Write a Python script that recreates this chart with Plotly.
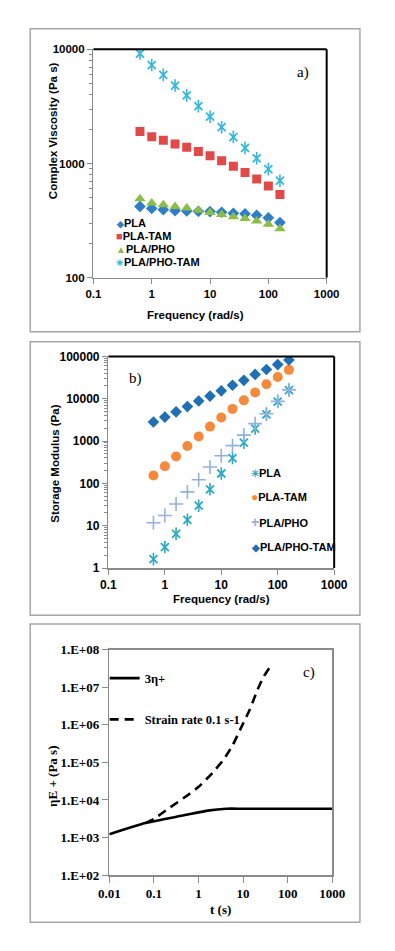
import plotly.graph_objects as go

W, H = 395, 951

# ---------------- data ----------------
freq = [0.628, 1.0, 1.58, 2.51, 3.98, 6.31, 10.0, 15.8, 25.1, 39.8, 63.1, 100.0, 158.0]

# panel a: complex viscosity (Pa s)
visc_pla = [421, 404, 394, 386, 384, 381, 379, 374, 366, 362, 352, 334, 304]
visc_pla_tam = [1909, 1718, 1597, 1483, 1388, 1273, 1168, 1057, 945, 834, 730, 635, 535]
visc_pla_pho = [491, 450, 435, 419, 408, 389, 372, 357, 341, 330, 313, 293, 268]
visc_pla_pho_tam = [9180, 7280, 5970, 4820, 3950, 3180, 2570, 2080, 1705, 1370, 1110, 892, 707]

# panel b: storage modulus (Pa)
gp_pla = [1.62, 3.13, 6.4, 13.8, 29.7, 72.5, 171, 396, 915, 1971, 4250, 8510, 15900]
gp_pla_tam = [153, 253, 432, 766, 1285, 2195, 3615, 5750, 9145, 14030, 21930, 32480, 48100]
gp_pla_pho = [11.7, 17.4, 32.5, 62.9, 122, 244, 448, 779, 1380, 2577, 4400, 8670, 16200]
gp_pla_pho_tam = [2818, 3683, 4898, 6516, 8830, 11535, 15350, 20800, 27180, 37500, 48980, 63970, 82200]

# panel c: elongational viscosity
t_lve = [0.01, 0.064, 0.44, 1.6, 4.2, 10, 100, 1000]
eta_lve = [1219, 2427, 3837, 5190, 5850, 5850, 5850, 5850]
t_ext = [0.064, 0.10, 0.232, 0.52, 0.99, 2.05, 3.6, 5.85, 9.5, 14.2, 21.2, 29.2, 38.5]
eta_ext = [2427, 3140, 6370, 12360, 22000, 52500, 117000, 289000, 964000, 2.6e6, 8.8e6, 1.96e7, 3.24e7]

series_a = ["PLA", "PLA-TAM", "PLA/PHO", "PLA/PHO-TAM"]
series_b = ["PLA", "PLA-TAM", "PLA/PHO", "PLA/PHO-TAM"]
series_c = ["3η+", "Strain rate 0.1 s-1"]

yc_ticks = [1e2, 1e3, 1e4, 1e5, 1e6, 1e7, 1e8]
yc_ticktext = ["1.E+02", "1.E+03", "1.E+04", "1.E+05", "1.E+06", "1.E+07", "1.E+08"]
xc_ticks = [0.01, 0.1, 1, 10, 100, 1000]
xc_ticktext = ["0.01", "0.1", "1", "10", "100", "1000"]
xab_ticks = [0.1, 1, 10, 100, 1000]
xab_ticktext = ["0.1", "1", "10", "100", "1000"]
ya_ticks = [100, 1000, 10000]
ya_ticktext = ["100", "1000", "10000"]
yb_ticks = [1, 10, 100, 1000, 10000, 100000]
yb_ticktext = ["1", "10", "100", "1000", "10000", "100000"]

# ---------------- helpers ----------------
def px(x):
    return x / W

def py(y):
    return 1 - y / H

SANS = "Liberation Sans, Arial"
SERIF = "Liberation Serif, Times New Roman"
GREY = "#8a8a8a"

fig = go.Figure()

# ---- panel a
C_BLUE_A = "#2f7fc6"
C_RED = "#e24a4a"
C_GREEN = "#8cbd48"
C_CYAN = "#33b8dc"

fig.add_trace(go.Scatter(x=freq, y=visc_pla, mode="markers", name=series_a[0], showlegend=False,
    marker=dict(symbol="diamond", size=9, color=C_BLUE_A), xaxis="x", yaxis="y"))
fig.add_trace(go.Scatter(x=freq, y=visc_pla_tam, mode="markers", name=series_a[1], showlegend=False,
    marker=dict(symbol="square", size=9, color=C_RED), xaxis="x", yaxis="y"))
fig.add_trace(go.Scatter(x=freq, y=visc_pla_pho, mode="markers", name=series_a[2], showlegend=False,
    marker=dict(symbol="triangle-up", size=10, color=C_GREEN), xaxis="x", yaxis="y"))
fig.add_trace(go.Scatter(x=freq, y=visc_pla_pho_tam, mode="markers", name=series_a[3], showlegend=False,
    marker=dict(symbol="x-thin-open", size=8, color=C_CYAN, line=dict(width=1.8, color=C_CYAN)),
    xaxis="x", yaxis="y"))
fig.add_trace(go.Scatter(x=freq, y=visc_pla_pho_tam, mode="markers", showlegend=False,
    marker=dict(symbol="line-ns-open", size=9, color=C_CYAN, line=dict(width=1.6, color=C_CYAN)),
    xaxis="x", yaxis="y"))

# ---- panel b
C_TEAL = "#2aaac2"
C_ORANGE = "#f68a3c"
C_LBLUE = "#93b1df"
C_DBLUE = "#1f6fb4"

fig.add_trace(go.Scatter(x=freq, y=gp_pla, mode="markers", name=series_b[0], showlegend=False,
    marker=dict(symbol="x-thin-open", size=8, color=C_TEAL, line=dict(width=1.8, color=C_TEAL)),
    xaxis="x2", yaxis="y2"))
fig.add_trace(go.Scatter(x=freq, y=gp_pla, mode="markers", showlegend=False,
    marker=dict(symbol="line-ns-open", size=9, color=C_TEAL, line=dict(width=1.6, color=C_TEAL)),
    xaxis="x2", yaxis="y2"))
fig.add_trace(go.Scatter(x=freq, y=gp_pla_tam, mode="markers", name=series_b[1], showlegend=False,
    marker=dict(symbol="circle", size=10, color=C_ORANGE), xaxis="x2", yaxis="y2"))
fig.add_trace(go.Scatter(x=freq, y=gp_pla_pho, mode="markers", name=series_b[2], showlegend=False,
    marker=dict(symbol="cross-thin-open", size=10, color=C_LBLUE, line=dict(width=1.6, color=C_LBLUE)),
    xaxis="x2", yaxis="y2"))
fig.add_trace(go.Scatter(x=freq, y=gp_pla_pho_tam, mode="markers", name=series_b[3], showlegend=False,
    marker=dict(symbol="diamond", size=9, color=C_DBLUE), xaxis="x2", yaxis="y2"))

# ---- panel c
fig.add_trace(go.Scatter(x=t_lve, y=eta_lve, mode="lines", name="<b>" + series_c[0] + "</b>",
    line=dict(color="black", width=2.6, shape="spline", smoothing=0.6),
    xaxis="x3", yaxis="y3", legend="legend3", legendgroup="c1"))
fig.add_trace(go.Scatter(x=t_ext, y=eta_ext, mode="lines", name="<b>" + series_c[1] + "</b>",
    line=dict(color="black", width=2.6, dash="9px,6px", shape="spline", smoothing=0.6),
    xaxis="x3", yaxis="y3", legend="legend3", legendgroup="c2"))

# ---------------- axes ----------------
def xax(domain, rng, ytick, vals, text, font):
    return dict(type="log", domain=domain, range=rng, anchor=ytick, tickmode="array",
                tickvals=vals, ticktext=text, ticks="outside", ticklen=5, tickcolor=GREY,
                showline=True, linecolor=GREY, linewidth=1.5, showgrid=False, zeroline=False,
                tickfont=font)

def yax(domain, rng, xtick, vals, text, font, minor=None):
    d = dict(type="log", domain=domain, range=rng, anchor=xtick, tickmode="array",
             tickvals=vals, ticktext=text, ticks="outside", ticklen=5, tickcolor=GREY,
             showline=True, linecolor=GREY, linewidth=1.5, showgrid=False, zeroline=False,
             tickfont=font)
    if minor is not None:
        d["minor"] = dict(tickvals=minor, ticks="outside", ticklen=3, tickcolor=GREY, showgrid=False)
    return d

fa = dict(family=SANS, size=11.5, color="black", weight="bold")
fb = dict(family=SANS, size=12, color="black", weight="bold")
fc = dict(family=SERIF, size=13, color="black", weight="bold")

minor_a = [m * 10 ** e for e in (2, 3) for m in range(2, 10)]
minor_b = [m * 10 ** e for e in range(0, 5) for m in range(2, 10)]

# plot areas (px)
A = (88, 337, 43, 275)
B = (104, 345, 355, 570)
C = (105, 343, 653, 882)

fig.update_layout(
    xaxis=xax([px(A[0]), px(A[1])], [-1, 3], "y", xab_ticks, xab_ticktext, fa),
    yaxis=yax([py(A[3]), py(A[2])], [2, 4], "x", ya_ticks, ya_ticktext, fa, minor_a),
    xaxis2=xax([px(B[0]), px(B[1])], [-1, 3], "y2", xab_ticks, xab_ticktext, fb),
    yaxis2=yax([py(B[3]), py(B[2])], [0, 5], "x2", yb_ticks, yb_ticktext, fb, minor_b),
    xaxis3=xax([px(C[0]), px(C[1])], [-2, 3], "y3", xc_ticks, xc_ticktext, fc),
    yaxis3=yax([py(C[3]), py(C[2])], [2, 8], "x3", yc_ticks, yc_ticktext, fc),
)
fig.layout.xaxis3.mirror = True
fig.layout.yaxis3.mirror = True
fig.layout.xaxis3.ticklen = 6
fig.layout.yaxis3.ticklen = 6

# ---------------- legend (panel c) ----------------
fig.update_layout(
    legend3=dict(x=px(100), y=py(667), xanchor="left", yanchor="top", bgcolor="rgba(0,0,0,0)",
                 font=dict(family=SERIF, size=12.5, color="black"),
                 itemwidth=30, traceorder="grouped", tracegroupgap=22),
)

# ---------------- shapes: panel frames & black borders ----------------
shapes = []
for (y0, y1) in [(22, 330), (340, 618), (627, 930)]:
    shapes.append(dict(type="rect", xref="paper", yref="paper", x0=px(20.5), x1=px(372.5),
                       y0=py(y1), y1=py(y0), line=dict(color="#a6a6a6", width=1.5)))
for P in (A, B):
    shapes.append(dict(type="line", xref="paper", yref="paper", x0=px(P[0]), x1=px(P[1]),
                       y0=py(P[2]), y1=py(P[2]), line=dict(color="black", width=2)))
    shapes.append(dict(type="line", xref="paper", yref="paper", x0=px(P[1]), x1=px(P[1]),
                       y0=py(P[3]), y1=py(P[2]), line=dict(color="black", width=2)))
fig.update_layout(shapes=shapes)

# ---------------- annotations (titles, panel labels, legends a & b) ----------------
bold_sans = dict(family=SANS, size=11.5, color="black", weight="bold")
ann = [
    dict(text="Complex Viscosity (Pa s)", x=px(45), y=py(126), textangle=-90, font=bold_sans),
    dict(text="Frequency (rad/s)", x=px(197), y=py(313), font=bold_sans),
    dict(text="a)", x=px(312), y=py(67), font=dict(family=SERIF, size=15, color="black")),
    dict(text="Storage Modulus (Pa)", x=px(47), y=py(464), textangle=-90, font=bold_sans),
    dict(text="Frequency (rad/s)", x=px(225), y=py(601), font=bold_sans),
    dict(text="b)", x=px(133), y=py(377), font=dict(family=SERIF, size=15, color="black")),
    dict(text="ηE + (Pa s)", x=px(44), y=py(782), textangle=-90,
         font=dict(family=SERIF, size=13, color="black", weight="bold")),
    dict(text="t (s)", x=px(224), y=py(917),
         font=dict(family=SERIF, size=13, color="black", weight="bold")),
    dict(text="c)", x=px(318), y=py(676), font=dict(family=SERIF, size=15, color="black")),
]
for a in ann:
    a.update(xanchor="center")

leg_font = dict(family=SANS, size=11, color="black", weight="bold")
glyph_a = [("◆", C_BLUE_A, 9), ("■", C_RED, 11), ("▲", C_GREEN, 10), ("✳", C_CYAN, 9)]
rows_a = [219, 232.5, 246, 259.5]
for (g, col, gs), name, yy in zip(glyph_a, series_a, rows_a):
    ann.append(dict(text=f"<span style='color:{col};font-size:{gs}px'>{g}</span>{name}",
                    x=px(110), y=py(yy), xanchor="left", font=leg_font))
glyph_b = [("✳", C_TEAL, 10), ("●", C_ORANGE, 12), ("+", C_LBLUE, 14), ("◆", C_DBLUE, 10)]
rows_b = [473, 498, 523.5, 549]
for (g, col, gs), name, yy in zip(glyph_b, series_b, rows_b):
    ann.append(dict(text=f"<span style='color:{col};font-size:{gs}px'>{g}</span>{name}",
                    x=px(254), y=py(yy), xanchor="left", font=leg_font))

for a in ann:
    a.update(xref="paper", yref="paper", showarrow=False, yanchor="middle")
fig.update_layout(annotations=ann)

fig.update_layout(width=W, height=H, margin=dict(l=0, r=0, t=0, b=0),
                  paper_bgcolor="white", plot_bgcolor="white", showlegend=True)

fig.write_html("out.html", config={"displayModeBar": False, "staticPlot": True},
               post_script="document.body.style.margin='0px';document.body.style.overflow='hidden';")
